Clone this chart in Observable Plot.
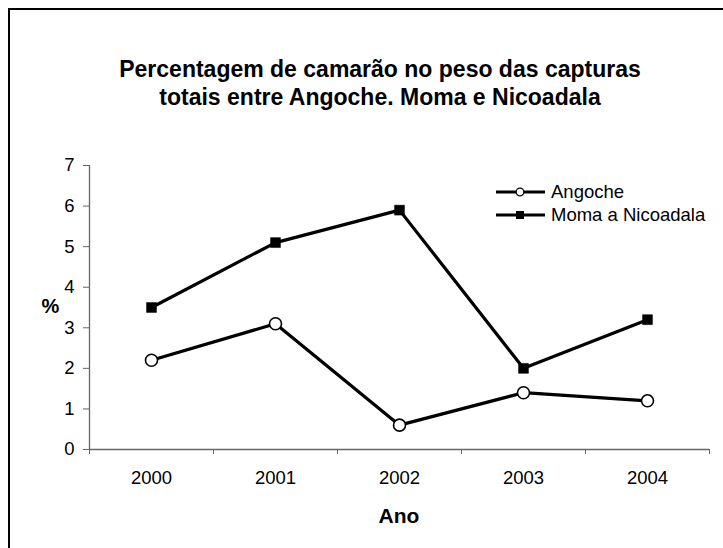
<!DOCTYPE html>
<html>
<head>
<meta charset="utf-8">
<script src="https://cdn.jsdelivr.net/npm/d3@7"></script>
<script src="https://cdn.jsdelivr.net/npm/@observablehq/plot@0.6"></script>
<style>
  html, body { margin: 0; padding: 0; background: #fff; overflow: hidden; }
  #wrap { position: relative; width: 723px; height: 548px; overflow: hidden; font-family: "Liberation Sans", Arial, sans-serif; color: #000; }
  #frame { position: absolute; left: 8px; top: 8px; width: 800px; height: 600px; border: 2.5px solid #000; box-sizing: border-box; }
  #chart { position: absolute; left: 0; top: 0; }
  .txt { position: absolute; text-align: center; white-space: nowrap; }
  #title { left: 0; width: 760px; top: 55px; font-size: 23px; line-height: 28px; font-weight: bold; }
  #xlabel { left: 299px; width: 200px; top: 505px; font-size: 21px; line-height: 21px; font-weight: bold; }
  #ylabel { left: 0.5px; width: 100px; top: 296px; font-size: 20px; line-height: 20px; font-weight: bold; }
  #legend { position: absolute; left: 490px; top: 175px; }
</style>
</head>
<body>
<div id="wrap">
  <div id="frame"></div>
  <div id="chart"></div>
  <div id="title" class="txt">Percentagem de camarão no peso das capturas<br>totais entre Angoche. Moma e Nicoadala</div>
  <div id="xlabel" class="txt">Ano</div>
  <div id="ylabel" class="txt">%</div>
  <div id="legend"></div>
</div>
<script>
const years = [2000, 2001, 2002, 2003, 2004];
const angoche = [2.2, 3.1, 0.6, 1.4, 1.2];
const moma = [3.5, 5.1, 5.9, 2.0, 3.2];
const yTicks = [0, 1, 2, 3, 4, 5, 6, 7];
const seriesNames = ["Angoche", "Moma a Nicoadala"];

const rowsA = years.map((y, i) => ({year: y, value: angoche[i], series: seriesNames[0]}));
const rowsM = years.map((y, i) => ({year: y, value: moma[i], series: seriesNames[1]}));
const boundaries = [years[0] - 0.5, ...years.map(y => y + 0.5)];

const axisColor = "#666";
const plot = Plot.plot({
  width: 723,
  height: 548,
  marginLeft: 89,
  marginRight: 14,
  marginTop: 165,
  marginBottom: 99,
  style: {fontFamily: "'Liberation Sans', Arial, sans-serif", color: "#000", background: "transparent"},
  x: {type: "linear", domain: [boundaries[0], boundaries[boundaries.length - 1]]},
  y: {domain: [0, 7]},
  marks: [
    Plot.axisY({ticks: yTicks, tickSize: 6, tickPadding: 9, fontSize: 18.5, label: null, stroke: axisColor, fill: "#000", tickFormat: d => String(d)}),
    Plot.axisX({ticks: boundaries, tickSize: 5, tickFormat: () => "", label: null, stroke: axisColor}),
    Plot.axisX({ticks: years, tickSize: 0, tickPadding: 21, fontSize: 18.5, label: null, fill: "#000", tickFormat: d => String(d)}),
    Plot.ruleX([boundaries[0]], {stroke: axisColor, strokeWidth: 1.3}),
    Plot.ruleY([0], {stroke: axisColor, strokeWidth: 1.3}),
    Plot.line(rowsM, {x: "year", y: "value", stroke: "#000", strokeWidth: 3.2}),
    Plot.line(rowsA, {x: "year", y: "value", stroke: "#000", strokeWidth: 3.2}),
    Plot.dot(rowsM, {x: "year", y: "value", symbol: "square", r: 5.6, fill: "#000", stroke: "#000", strokeWidth: 0.5}),
    Plot.dot(rowsA, {x: "year", y: "value", r: 6, fill: "#fff", stroke: "#000", strokeWidth: 1.6})
  ]
});
document.getElementById("chart").appendChild(plot);

// Legend
const lg = d3.select("#legend").append("svg").attr("width", 233).attr("height", 60)
  .style("font-family", "'Liberation Sans', Arial, sans-serif");
const rowY = [17, 40];
seriesNames.forEach((name, i) => {
  const g = lg.append("g").attr("transform", `translate(0,${rowY[i]})`);
  g.append("line").attr("x1", 6).attr("x2", 55).attr("y1", 0).attr("y2", 0).attr("stroke", "#000").attr("stroke-width", 3);
  if (i === 0) {
    g.append("circle").attr("cx", 30).attr("cy", 0).attr("r", 3.8).attr("fill", "#fff").attr("stroke", "#000").attr("stroke-width", 1.3);
  } else {
    g.append("rect").attr("x", 26).attr("y", -4).attr("width", 8).attr("height", 8).attr("fill", "#000");
  }
  g.append("text").attr("x", 61).attr("y", 6).attr("font-size", 18.5).attr("fill", "#000").text(name);
});
</script>
</body>
</html>
